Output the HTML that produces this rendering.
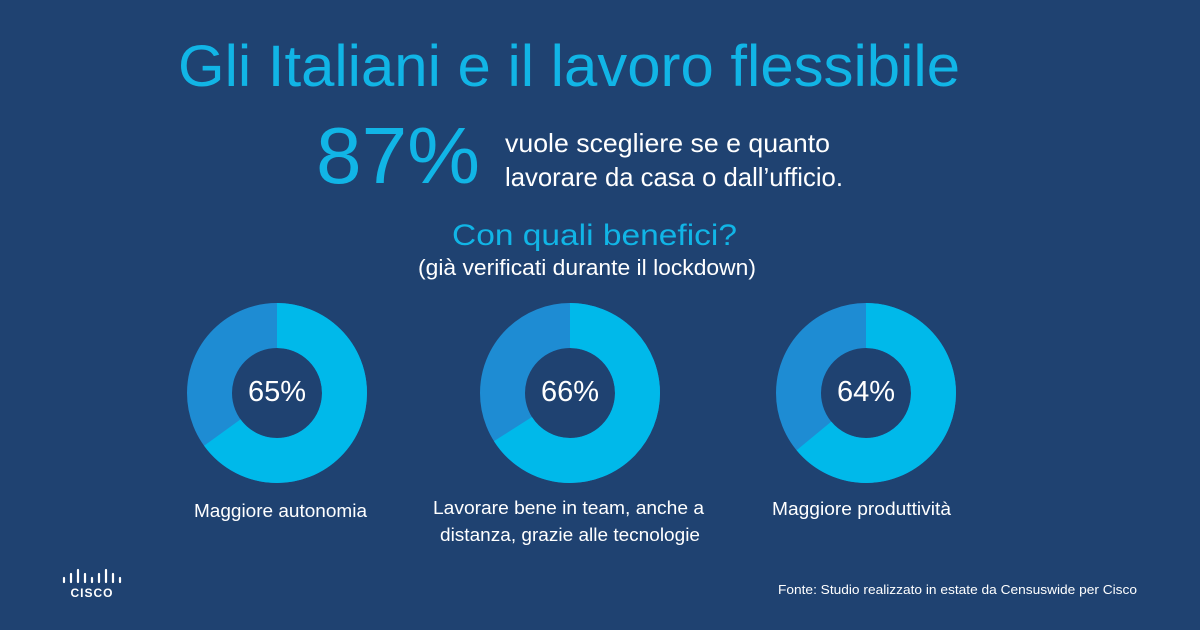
<!DOCTYPE html>
<html><head><meta charset="utf-8"><style>
html,body{margin:0;padding:0;background:#1f4271;}
svg{display:block;font-family:"Liberation Sans",sans-serif;}
</style></head><body>
<svg width="1200" height="630" viewBox="0 0 1200 630">
<rect width="1200" height="630" fill="#1f4271"/>
<text x="178" y="86" font-size="58" fill="#11b5e6" textLength="782" lengthAdjust="spacingAndGlyphs">Gli Italiani e il lavoro flessibile</text>
<text x="316" y="183" font-size="80" fill="#11b5e6" textLength="164" lengthAdjust="spacingAndGlyphs">87%</text>
<text x="505" y="152" font-size="26" fill="#ffffff" textLength="325" lengthAdjust="spacingAndGlyphs">vuole scegliere se e quanto</text>
<text x="505" y="186" font-size="26" fill="#ffffff" textLength="338" lengthAdjust="spacingAndGlyphs">lavorare da casa o dall’ufficio.</text>
<text x="452" y="245" font-size="30" fill="#11b5e6" textLength="285" lengthAdjust="spacingAndGlyphs">Con quali benefici?</text>
<text x="418" y="275" font-size="22" fill="#ffffff" textLength="338" lengthAdjust="spacingAndGlyphs">(già verificati durante il lockdown)</text>
<g fill="none" stroke-width="45">
 <circle cx="277" cy="393" r="67.5" stroke="#1e8cd3"/>
 <circle cx="277" cy="393" r="67.5" stroke="#00b9ea" stroke-dasharray="275.7 500" transform="rotate(-90 277 393)"/>
 <circle cx="570" cy="393" r="67.5" stroke="#1e8cd3"/>
 <circle cx="570" cy="393" r="67.5" stroke="#00b9ea" stroke-dasharray="279.9 500" transform="rotate(-90 570 393)"/>
 <circle cx="866" cy="393" r="67.5" stroke="#1e8cd3"/>
 <circle cx="866" cy="393" r="67.5" stroke="#00b9ea" stroke-dasharray="271.4 500" transform="rotate(-90 866 393)"/>
</g>
<g fill="#ffffff" font-size="29" text-anchor="middle">
 <text x="277" y="401">65%</text>
 <text x="570" y="401">66%</text>
 <text x="866" y="401">64%</text>
</g>
<g fill="#ffffff" font-size="18">
 <text x="194" y="517" textLength="173" lengthAdjust="spacingAndGlyphs">Maggiore autonomia</text>
 <text x="433" y="514" textLength="271" lengthAdjust="spacingAndGlyphs">Lavorare bene in team, anche a</text>
 <text x="440" y="541" textLength="260" lengthAdjust="spacingAndGlyphs">distanza, grazie alle tecnologie</text>
 <text x="772" y="515" textLength="179" lengthAdjust="spacingAndGlyphs">Maggiore produttività</text>
</g>
<text x="778" y="594" font-size="13" fill="#ffffff" textLength="359" lengthAdjust="spacingAndGlyphs">Fonte: Studio realizzato in estate da Censuswide per Cisco</text>
<g stroke="#ffffff" stroke-width="2.2" stroke-linecap="round">
 <line x1="64" y1="578" x2="64" y2="582"/>
 <line x1="71" y1="574" x2="71" y2="582"/>
 <line x1="78" y1="570" x2="78" y2="582"/>
 <line x1="85" y1="574" x2="85" y2="582"/>
 <line x1="92" y1="578" x2="92" y2="582"/>
 <line x1="99" y1="574" x2="99" y2="582"/>
 <line x1="106" y1="570" x2="106" y2="582"/>
 <line x1="113" y1="574" x2="113" y2="582"/>
 <line x1="120" y1="578" x2="120" y2="582"/>
</g>
<text x="92" y="597" font-size="12" font-weight="bold" fill="#ffffff" text-anchor="middle" letter-spacing="1">CISCO</text>
</svg>
</body></html>
